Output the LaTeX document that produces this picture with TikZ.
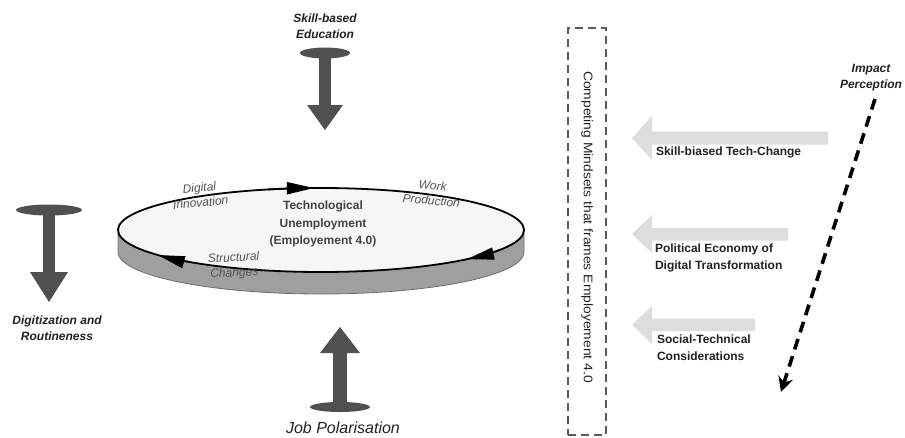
\documentclass[tikz,border=0pt]{standalone}
\usepackage{fontspec}
\setmainfont{Liberation Sans}
\usetikzlibrary{arrows.meta,shapes.geometric,calc}
\definecolor{txt}{HTML}{222222}
\definecolor{softtxt}{HTML}{555555}
\definecolor{tarrow}{HTML}{505050}
\definecolor{band}{HTML}{9F9F9F}
\definecolor{bandedge}{HTML}{6E6E6E}
\definecolor{ringfill}{HTML}{F6F6F6}
\definecolor{ghost}{HTML}{DDDDDD}
\definecolor{boxgray}{HTML}{5A5A5A}
\tikzset{
  every node/.style={inner sep=0pt, outer sep=0pt},
  boldit/.style={font=\fontsize{12}{16}\selectfont\bfseries\itshape, text=txt, align=center},
  softit/.style={font=\fontsize{12}{15}\selectfont\itshape, text=softtxt, align=center},
  boldlbl/.style={font=\fontsize{12}{16.5}\selectfont\bfseries, text=txt, align=left, anchor=west},
  centrelbl/.style={font=\fontsize{12}{17.5}\selectfont\bfseries, text=txt!85!white, align=center},
  ringarrow/.style={line width=1.8pt, -{Triangle[length=27pt,width=12pt]}},
  tshape/.style={fill=tarrow},
  ghostarrow/.style={fill=ghost},
}
\begin{document}
\begin{tikzpicture}[x=1pt,y=-1pt]
\useasboundingbox (0,0) rectangle (905,437);
\clip (0,0) rectangle (905,437);

% ---- ring (cylinder) ----
\fill[band, draw=bandedge, line width=0.8pt]
  (118,230) -- (118,252) arc[start angle=180, end angle=0, x radius=203, y radius=42]
  -- (524,230) arc[start angle=0, end angle=180, x radius=203, y radius=42] -- cycle;
\node[ellipse, draw=black, line width=1.8pt, fill=ringfill,
      minimum width=406, minimum height=84] (ring) at (321,230) {};

\draw[ringarrow] ($(ring.center)+(255:203 and 42)$)
  arc[start angle=255, end angle=268, x radius=203, y radius=42];
\draw[ringarrow] ($(ring.center)+(28:203 and 42)$)
  arc[start angle=28, end angle=44, x radius=203, y radius=42];
\draw[ringarrow] ($(ring.center)+(131:203 and 42)$)
  arc[start angle=131, end angle=143.5, x radius=203, y radius=42];

\node[centrelbl] (core) at (323,224) {Technological\\Unemployment\\(Employement 4.0)};
\node[softit, rotate=5] (digital) at (200,195) {Digital\\Innovation};
\node[softit, rotate=-5] (work) at (432,193) {Work\\Production};
\node[softit, rotate=3] (struct) at (234,266) {Structural\\Changes};

% ---- top T-arrow ----
\fill[tshape] (319,53) rectangle (331,106);
\fill[tshape] (307,105) -- (343,105) -- (325,130) -- cycle;
\fill[tshape] (325,53) ellipse (25 and 5.5);
\node[boldit] (skill) at (325,26) {Skill-based\\Education};

% ---- left T-arrow ----
\fill[tshape] (43,210) rectangle (55,273);
\fill[tshape] (30,272) -- (68,272) -- (49,302) -- cycle;
\fill[tshape] (49,210) ellipse (33 and 5.5);
\node[boldit] (digit) at (57,328) {Digitization and\\Routineness};

% ---- bottom T-arrow ----
\fill[tshape] (320,353) -- (340,327) -- (360,353) -- cycle;
\fill[tshape] (333,352) rectangle (347,407);
\fill[tshape] (340,407) ellipse (30 and 5);
\node[font=\fontsize{16}{18}\selectfont\itshape, text=txt] (jobpol) at (343,428) {Job Polarisation};

% ---- dashed frame ----
\node[draw=boxgray, line width=2pt, dash pattern=on 8pt off 5pt,
      minimum width=38, minimum height=407] (frame) at (587,231.5) {};
\node[rotate=-90, font=\fontsize{12.5}{14}\selectfont, text=txt] (mind) at (587,227)
  {\scalebox{1.11}[1]{Competing Mindsets that frames Employement 4.0}};

% ---- ghost arrows ----
\fill[ghostarrow] (632,138) -- (652,116) -- (652,131.5) -- (828,131.5) -- (828,144.5)
  -- (652,144.5) -- (652,160) -- cycle;
\fill[ghostarrow] (632,234) -- (652,215) -- (652,228) -- (788,228) -- (788,240.5)
  -- (652,240.5) -- (652,253) -- cycle;
\fill[ghostarrow] (632,325) -- (652,306) -- (652,318.5) -- (755,318.5) -- (755,331)
  -- (652,331) -- (652,344) -- cycle;
\node[boldlbl] (sbtc) at (656,152) {Skill-biased Tech-Change};
\node[boldlbl] (pedt) at (655,258) {Political Economy of\\Digital Transformation};
\node[boldlbl] (stc) at (657,347.5) {Social-Technical\\Considerations};

% ---- impact perception ----
\node[boldit] (impact) at (871,78) {Impact\\Perception};
\coordinate (ipstart) at (875,99);
\coordinate (ipend) at (781,392);
\draw[line width=3.6pt, dash pattern=on 11pt off 7pt, -{Stealth[length=15pt,width=15pt]}]
  (ipstart) -- (ipend);
\end{tikzpicture}
\end{document}
